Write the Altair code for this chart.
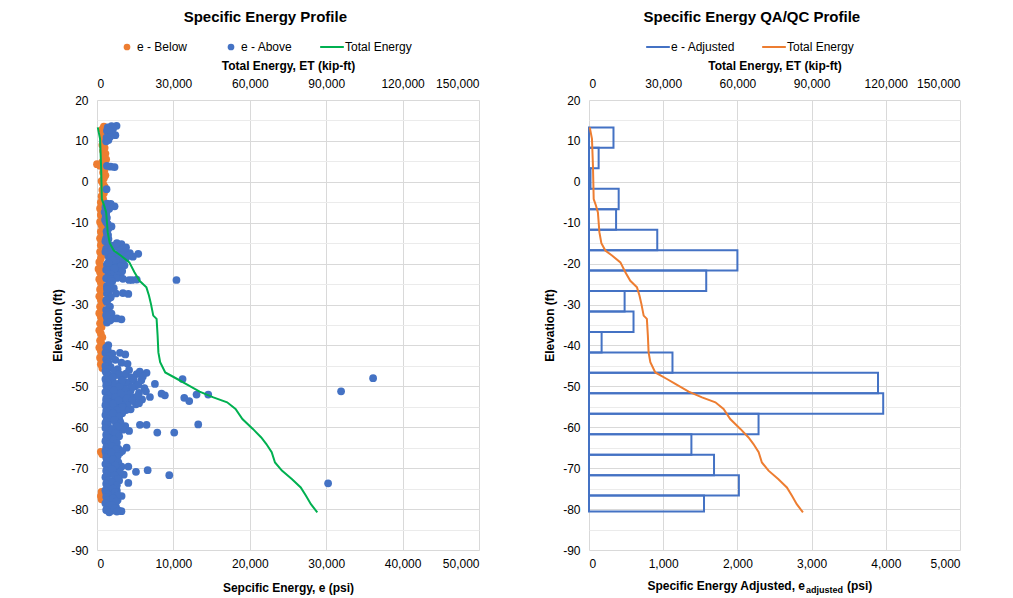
import altair as alt
import pandas as pd

FONT = "Liberation Sans"
ORANGE = "#ED7D31"
BLUE = "#4472C4"
GREEN = "#00B050"
GRID = "#d9d9d9"
MINOR = "#ebebeb"

# ---------------- data ----------------
# Total energy profile (kip-ft) vs elevation (ft)
te_elev = [13.3, 10.5, 3.9, -4.2, -5.8, -7.5, -12.3, -15.0, -16.8, -18.0, -19.7, -22.1,
           -24.2, -25.8, -27.8, -29.9, -32.7, -33.5, -37.6, -41.7, -44.1, -46.6, -48.2,
           -49.4, -51.3, -52.7, -53.9, -55.5, -58.0, -60.4, -62.5, -64.1, -66.1, -68.6,
           -70.6, -72.7, -74.7, -76.7, -78.8, -80.8]
te_kipft = [300, 1200, 1600, 1900, 2800, 3600, 4200, 5000, 6600, 9300, 12700, 14700,
            16700, 19400, 20400, 21200, 22100, 23400, 23800, 24100, 24800, 26800, 31500,
            34900, 40300, 45700, 51100, 54400, 57100, 61200, 64500, 66500, 68600, 69900,
            72600, 76600, 80000, 82000, 84000, 86500]

# Specific energy below (psi)
below_elev = [13.5, 12.8, 12.0, 11.3, 10.5, 9.8, 9.0, 8.3, 7.6, 6.9, 6.2, 5.5, 4.8, 4.3, 3.9,
              3.0, 2.3, 1.6, 0.9, 0.2, -0.5, -1.2, -2.0, -2.8, -3.5, -4.2, -5.0, -5.7, -6.5,
              -7.3, -8.1, -9.0, -9.8, -10.6, -11.4, -12.2, -13.0, -13.8, -14.6, -15.5, -16.3,
              -17.1, -18.0, -18.8, -19.6, -20.5, -21.3, -22.1, -23.0, -23.8, -24.6, -25.4,
              -26.3, -27.1, -28.0, -28.8, -29.6, -30.5, -31.3, -32.1, -33.0, -33.8, -34.6,
              -35.5, -36.3, -37.1, -38.0, -38.8, -39.6, -40.5, -41.3, -42.1, -43.0, -43.8,
              -44.6, -45.5, -66.0, -66.6, -75.8, -76.8, -77.6]
below_e = [900, 700, 1000, 800, 1100, 900, 700, 1000, 800, 1100, 900, 1200, 700, 0, 400,
           1000, 800, 1100, 900, 600, 800, 1000, 700, 900, 600, 800, 500, 700, 400,
           600, 500, 700, 400, 600, 800, 500, 700, 400, 600, 500, 800,
           400, 600, 500, 300, 500, 200, 400, 600, 300, 500, 700,
           400, 600, 300, 500, 700, 400, 600, 300, 500, 700, 400,
           600, 300, 500, 700, 400, 600, 300, 500, 700, 400, 600,
           500, 700, 500, 700, 600, 500, 600]

# Specific energy above (psi)
above_elev = [13.7, 13.6, 13.3, 13.0, 12.5, 12.3, 11.4, 11.0, 10.8, 10.2, 9.9,
              3.9, 3.7, 3.6, -1.8,
              -5.3, -5.4, -6.0, -6.6, -6.2, -7.4, -8.4, -9.3, -7.0, -7.8, -8.8, -9.8, -10.3,
              -10.9, -11.4, -12.1, -13.0, -13.8, -14.5, -12.6, -14.0,
              -15.2, -15.0, -15.6, -15.9, -16.3, -17.6, -17.4, -17.0, -17.8, -17.3, -18.2,
              -17.1, -18.3, -18.6, -18.9, -19.3, -19.6, -20.0, -20.2, -20.4, -20.8, -21.0,
              -21.5, -22.0, -22.5, -22.4, -23.0,
              -15.8, -16.6, -16.8, -17.9, -18.4, -19.0, -19.2, -19.8, -20.6, -21.2, -21.8,
              -22.6, -22.9, -23.3, -24.6, -18.0, -16.0,
              -23.6, -23.8, -23.5, -23.7, -24.0, -23.9, -24.3, -24.0, -24.0,
              -25.5, -26.0, -26.6, -27.3, -27.3, -27.2, -27.4, -28.2, -29.4, -30.5, -31.3,
              -25.0, -26.2, -28.6, -29.0, -31.8, -32.2, -34.4,
              -33.2, -33.5, -33.4, -33.6, -33.9, -32.6, -39.9, -40.5,
              -41.6, -42.0, -41.8, -42.2, -43.0, -43.5, -44.2, -44.8, -44.5, -45.3, -45.8, -46.2,
              -46.7, -47.0, -46.9, -47.2, -47.5, -47.8, -48.0, -48.3, -48.5, -48.8, -49.4,
              -49.2, -49.4, -49.7, -50.0, -50.2, -50.5, -50.4, -50.9, -51.0, -51.3, -51.5,
              -51.6, -51.8, -52.2, -52.6, -52.0, -52.3, -52.5, -52.8, -53.0, -53.3, -53.2,
              -53.6, -53.8, -54.0, -54.3, -54.6, -54.4, -54.9, -55.2, -55.4, -55.6,
              -46.0, -46.4, -47.2, -47.6, -48.4, -49.0, -49.6, -50.2, -50.8, -51.2, -51.9,
              -52.4, -52.9, -53.5, -54.1, -54.7, -55.1, -55.8,
              -48.2, -52.0, -52.0, -52.8, -53.6, -48.0, -51.2,
              -56.0, -56.3, -56.6, -57.0, -57.3, -57.9, -58.2, -58.5, -59.0, -59.3, -59.4,
              -59.4, -59.3, -59.7, -60.0, -60.3, -60.6, -60.9, -61.3, -61.3, -61.0, -61.5,
              -62.0, -62.4,
              -63.0, -63.5, -63.3, -64.3, -64.8, -65.2, -65.0, -65.8, -65.6, -66.5, -66.8,
              -66.2, -67.4, -68.0, -68.3,
              -69.0, -69.6, -69.6, -69.9, -70.3, -70.9, -70.5, -71.7, -70.8, -71.3, -71.6,
              -72.0, -72.3, -73.6, -73.2, -73.0, -74.0, -74.5, -73.7,
              -75.2, -75.5, -76.0, -76.8, -76.5, -77.3, -77.8, -78.2, -78.7, -79.3, -79.6,
              -80.2, -80.4, -80.3, -80.5,
              -41.0, -41.8, -42.6, -43.4, -44.2, -45.0, -45.8, -46.6, -47.4, -48.2, -49.0,
              -49.8, -50.6, -51.4, -52.2, -53.0, -53.8, -54.6, -55.4, -56.2, -57.0, -57.8,
              -58.6, -59.4, -60.2, -61.0, -61.8, -62.6, -63.4, -64.2, -65.0, -65.8, -66.6,
              -67.4, -68.2, -69.0, -69.8, -70.6, -71.4, -72.2, -73.0, -73.8, -74.6, -75.4,
              -76.2, -77.0, -77.8, -78.6, -79.4, -80.2, -80.8,
              -46.2, -47.0, -47.8, -48.6, -49.4, -50.2, -51.0, -51.8, -52.6, -53.4, -54.2,
              -55.0, -55.8, -56.6, -57.4, -58.2, -59.0, -59.8, -60.6, -61.4, -62.2, -63.0,
              -63.8, -64.6, -65.4, -66.2, -67.0, -67.8, -68.6, -69.4, -70.2, -71.0, -71.8,
              -72.6, -73.4, -74.2, -75.0, -75.8, -76.6, -77.4, -78.2, -79.0, -79.8, -80.6]
above_e = [2560, 1900, 1400, 2100, 1300, 1800, 2400, 1700, 1250, 1500, 1200,
           1300, 1800, 2300, 1250,
           1300, 1800, 2300, 1600, 1100, 1000, 1150, 1050, 1300, 1200, 1300, 1200, 1400,
           1900, 1500, 1250, 1450, 1200, 1100, 1300, 1500,
           3200, 2600, 2000, 1500, 1200, 5400, 4300, 3500, 2800, 2000, 1500,
           1100, 4700, 3800, 2500, 1600, 3000, 2200, 1300, 3600, 2700, 1800,
           1200, 2400, 1500, 3100, 2000,
           2400, 1900, 3000, 3300, 1900, 3400, 2100, 1500, 3100, 2300, 3300,
           1900, 2700, 1500, 1600, 4100, 3800,
           1200, 1800, 2600, 3400, 4200, 5200, 2000, 10400, 4600,
           1300, 2200, 1600, 1300, 2500, 3400, 4100, 1800, 1300, 1700, 1200,
           1700, 1300, 1500, 1200, 1400, 1900, 1300,
           1300, 2000, 2600, 3200, 1700, 1200, 1480, 1200,
           1300, 2000, 3000, 3700, 1500, 2400, 3200, 1300, 4000, 1800, 2700, 1100,
           6490, 5200, 3800, 2500, 1500, 4500, 3200, 2000, 5800, 1200, 7580,
           4100, 2800, 1700, 5000, 3500, 2300, 6200, 1300, 4400, 3000, 1900,
           5500, 8450, 8880, 6930, 3800, 2500, 1400, 4800, 3300, 2000, 5900,
           1200, 4100, 2800, 1700, 3600, 5100, 2300, 1300, 3000, 4400,
           4200, 5600, 3600, 6000, 4800, 3800, 5400, 4600, 3700, 6400, 4300,
           5300, 3900, 4600, 5500, 4000, 3400, 3800,
           11200, 13030, 14560, 11420, 12070, 36140, 31950,
           1200, 2200, 3300, 1600, 2700, 1300, 2000, 3000, 1100, 2500, 5620,
           6490, 13250, 3700, 1500, 2300, 3400, 4200, 7890, 10110, 1800, 2800,
           1300, 2100,
           1200, 1800, 2400, 1300, 2000, 2790, 3880, 3300, 1500, 1200, 2200,
           3000, 1700, 1300, 2400,
           1500, 3220, 4100, 2200, 1300, 5100, 6630, 9460, 2700, 1800, 3500,
           1200, 2400, 4100, 1600, 2900, 1300, 2200, 30250,
           1500, 2600, 1200, 3220, 2000, 1600, 2700, 1300, 2100, 1500, 2500,
           1200, 1900, 2800, 3200,
           1400, 1100, 1600, 1200, 1500, 1100, 1400, 1200, 1600, 1100, 1400,
           1200, 1600, 1100, 1500, 1200, 1400, 1100, 1600, 1300, 1100, 1500,
           1200, 1400, 1100, 1600, 1200, 1400, 1100, 1500, 1200, 1100, 1500,
           1200, 1400, 1100, 1600, 1200, 1400, 1100, 1500, 1200, 1400, 1100,
           1600, 1200, 1400, 1100, 1500, 1300, 1600,
           2300, 2900, 2100, 3300, 2400, 2900, 2200, 3100, 2400, 2800, 2100,
           3300, 2600, 2100, 2900, 2300, 3100, 2700, 2000, 2400, 2900, 2200,
           2600, 2000, 2400, 1900, 2700, 2100, 2800, 2400, 2000, 3000, 2300,
           2700, 2000, 2600, 2100, 2400, 2700, 2100, 2500, 2000, 2300, 2600]

# Adjusted specific energy (psi) per 5-ft interval
adj_top = [13.3, 8.3, 3.3, -1.7, -6.7, -11.7, -16.7, -21.7, -26.7, -31.7, -36.7, -41.7,
           -46.7, -51.7, -56.7, -61.7, -66.7, -71.7, -76.7]
adj_bottom = [8.3, 3.3, -1.7, -6.7, -11.7, -16.7, -21.7, -26.7, -31.7, -36.7, -41.7, -46.7,
              -51.7, -56.7, -61.7, -66.7, -71.7, -76.7, -80.6]
adj_psi = [330, 130, 20, 400, 365, 920, 2000, 1580, 480, 600, 170, 1125,
           3895, 3965, 2285, 1380, 1685, 2020, 1550]

# ---------------- frames ----------------
pts = pd.concat([
    pd.DataFrame({"e": below_e, "elev": below_elev, "series": "e - Below"}),
    pd.DataFrame({"e": above_e, "elev": above_elev, "series": "e - Above"}),
], ignore_index=True)
pts["k"] = range(len(pts))
te = pd.DataFrame({"et": te_kipft, "elev": te_elev, "series": "Total Energy"})
te["k"] = range(len(te))
adj = pd.DataFrame({"adj": adj_psi, "top": adj_top, "bottom": adj_bottom, "series": "e - Adjusted"})

W1, W2, H = 382, 371, 450
COMMA = "format(datum.value, ',')"


def y_enc(field="elev"):
    return alt.Y(
        f"{field}:Q",
        scale=alt.Scale(domain=[-90, 20], nice=False, zero=False),
        axis=alt.Axis(
            title="Elevation (ft)",
            values=list(range(-90, 21, 5)),
            labelExpr="datum.value % 10 == 0 ? ('' + datum.value) : ''",
            gridColor={"condition": {"test": "datum.value % 10 == 0", "value": GRID}, "value": MINOR},
            domain=False, ticks=False, labelPadding=9, titlePadding=6,
        ),
    )


def x_axis(title, values, orient, grid, title_on=True, lpad=7, tpad=5):
    kw = dict(values=values, labelExpr=COMMA, orient=orient, grid=grid, gridColor=GRID,
              domain=False, ticks=False, labelPadding=lpad, titlePadding=tpad)
    kw["title"] = title if title_on else None
    return alt.Axis(**kw)


# ---------------- left panel ----------------
left_points = alt.Chart(pts).mark_circle(size=60, opacity=1).encode(
    x=alt.X("e:Q", scale=alt.Scale(domain=[0, 50000], nice=False),
            axis=x_axis("Sepcific Energy, e (psi)", list(range(0, 50001, 10000)), "bottom", True,
                        lpad=8, tpad=13)),
    y=y_enc(),
    color=alt.Color("series:N",
                    scale=alt.Scale(domain=["e - Below", "e - Above"], range=[ORANGE, BLUE]),
                    legend=alt.Legend(orient="none", legendX=24, legendY=-59, direction="horizontal",
                                      title=None, symbolType="circle", symbolSize=45,
                                      columnPadding=37, labelFontSize=12)),
    order="k:Q",
)
left_line = alt.Chart(te).mark_line(strokeWidth=2).encode(
    x=alt.X("et:Q", scale=alt.Scale(domain=[0, 150000], nice=False),
            axis=x_axis("Total Energy, ET (kip-ft)", list(range(0, 150001, 30000)), "top", False, lpad=10)),
    y=y_enc(),
    order="k:Q",
    stroke=alt.Stroke("series:N", scale=alt.Scale(domain=["Total Energy"], range=[GREEN]),
                      legend=alt.Legend(orient="none", legendX=222, legendY=-66, title=None,
                                        symbolType="stroke", symbolSize=560, symbolStrokeWidth=2,
                                        labelFontSize=12, labelOffset=0)),
)
left = alt.layer(left_points, left_line).resolve_scale(x="independent").properties(
    width=W1, height=H,
    title=alt.TitleParams("Specific Energy Profile", fontSize=15, fontWeight="bold",
                          anchor="middle", frame="bounds", offset=9),
)

# ---------------- right panel ----------------
stroke_scale = alt.Scale(domain=["e - Adjusted", "Total Energy"], range=[BLUE, ORANGE])
right_rect = alt.Chart(adj).mark_rect(fillOpacity=0, strokeWidth=2).encode(
    x=alt.X("adj:Q", scale=alt.Scale(domain=[0, 5000], nice=False),
            axis=x_axis("", list(range(0, 5001, 1000)), "bottom", True, title_on=False, lpad=8)),
    x2=alt.datum(0),
    y=y_enc("top"),
    y2="bottom:Q",
    stroke=alt.Stroke("series:N", scale=stroke_scale,
                      legend=alt.Legend(orient="none", legendX=56, legendY=-66, direction="horizontal",
                                        title=None, symbolType="stroke", symbolSize=560,
                                        symbolStrokeWidth=2, columnPadding=22, labelFontSize=12,
                                        labelOffset=0)),
)
right_line = alt.Chart(te).mark_line(strokeWidth=2).encode(
    x=alt.X("et:Q", scale=alt.Scale(domain=[0, 150000], nice=False),
            axis=x_axis("Total Energy, ET (kip-ft)", list(range(0, 150001, 30000)), "top", False, lpad=10)),
    y=y_enc(),
    order="k:Q",
    stroke=alt.Stroke("series:N", scale=stroke_scale),
)
lbl = pd.DataFrame({"a": [1]})
t_main = alt.Chart(lbl).mark_text(text="Specific Energy Adjusted, e", align="right", baseline="alphabetic",
                                  fontSize=12, fontWeight="bold").encode(
    x=alt.value(216), y=alt.value(H + 40))
t_sub = alt.Chart(lbl).mark_text(text="adjusted", align="left", baseline="alphabetic",
                                 fontSize=9, fontWeight="bold").encode(
    x=alt.value(217), y=alt.value(H + 43))
t_psi = alt.Chart(lbl).mark_text(text="(psi)", align="left", baseline="alphabetic",
                                 fontSize=12, fontWeight="bold").encode(
    x=alt.value(258), y=alt.value(H + 40))

right = alt.layer(right_rect, right_line, t_main, t_sub, t_psi).resolve_scale(x="independent").properties(
    width=W2, height=H,
    title=alt.TitleParams("Specific Energy QA/QC Profile", fontSize=15, fontWeight="bold",
                          anchor="middle", frame="bounds", offset=9),
)

chart = alt.hconcat(left, right, spacing=64).resolve_scale(
    color="independent", stroke="independent", x="independent", y="independent"
).resolve_legend(color="independent", stroke="independent").properties(
    padding={"left": 43, "top": 2, "right": 5, "bottom": 0},
).configure(font=FONT).configure_view(strokeWidth=0).configure_axis(
    labelFont=FONT, labelFontSize=12, labelColor="#000000",
    titleFont=FONT, titleFontSize=12, titleFontWeight="bold", titleColor="#000000",
).configure_legend(labelFont=FONT, labelColor="#000000").configure_title(font=FONT, color="#000000")

chart.save("out.html", embed_options={"renderer": "svg", "actions": False})
